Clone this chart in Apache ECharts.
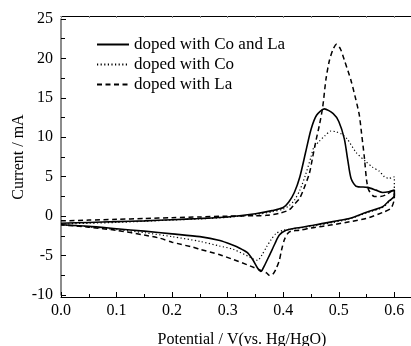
<!DOCTYPE html>
<html>
<head>
<meta charset="utf-8">
<script src="https://cdn.jsdelivr.net/npm/echarts@6/dist/echarts.min.js"></script>
<style>html,body{margin:0;padding:0;background:#fff}#c{width:411px;height:346px}</style>
</head>
<body>
<div id="c"></div>
<script>
// Series names
const seriesNames = ['doped with Co and La', 'doped with Co', 'doped with La'];
// Tick values
const xTicks = [0.0, 0.1, 0.2, 0.3, 0.4, 0.5, 0.6];
const yTicks = [-10, -5, 0, 5, 10, 15, 20, 25];

// Cyclic voltammograms: [potential V, current mA], in sweep order (anodic then cathodic)
const coLa = [
  [0.0,-0.9],[0.05,-0.8],[0.1,-0.7],[0.15,-0.6],[0.2,-0.45],[0.25,-0.3],[0.3,-0.1],[0.35,0.3],[0.38,0.7],[0.4,1.1],
  [0.41,1.8],[0.42,3.0],[0.43,5.0],[0.44,8.0],[0.45,11.0],[0.46,12.8],[0.474,13.6],[0.49,13.0],[0.5,12.0],[0.51,9.8],
  [0.516,7.2],[0.522,4.8],[0.531,3.8],[0.552,3.65],[0.567,3.3],[0.579,3.0],[0.59,3.1],[0.6,3.3],
  [0.6,2.6],[0.59,1.9],[0.579,1.2],[0.55,0.5],[0.519,-0.3],[0.5,-0.55],[0.459,-1.1],[0.42,-1.55],[0.405,-1.8],
  [0.393,-2.4],[0.385,-3.5],[0.375,-5.0],[0.366,-6.3],[0.36,-7.0],[0.354,-6.6],[0.345,-5.5],[0.335,-4.6],[0.32,-4.0],
  [0.31,-3.7],[0.286,-3.1],[0.25,-2.6],[0.2,-2.25],[0.15,-1.9],[0.1,-1.6],[0.05,-1.3],[0.0,-1.1]
];
const coOnly = [
  [0.0,-1.0],[0.05,-0.9],[0.1,-0.8],[0.15,-0.65],[0.2,-0.5],[0.25,-0.35],[0.3,-0.15],[0.35,0.2],[0.38,0.55],[0.4,0.9],
  [0.41,1.3],[0.42,2.0],[0.43,3.3],[0.44,5.2],[0.45,7.5],[0.455,8.7],[0.465,9.5],[0.475,10.2],[0.486,10.8],[0.495,10.7],
  [0.505,10.4],[0.515,9.8],[0.531,8.1],[0.549,6.9],[0.561,6.2],[0.573,5.7],[0.582,5.0],[0.59,4.8],[0.6,5.0],[0.6,3.3],
  [0.6,2.6],[0.59,1.8],[0.579,1.1],[0.55,0.4],[0.519,-0.35],[0.49,-0.8],[0.459,-1.2],[0.42,-1.6],[0.4,-1.8],[0.387,-2.2],
  [0.378,-3.0],[0.37,-3.9],[0.362,-4.9],[0.354,-5.6],[0.345,-5.4],[0.34,-5.2],[0.31,-4.2],[0.286,-3.8],[0.25,-3.2],
  [0.2,-2.6],[0.15,-2.1],[0.1,-1.7],[0.05,-1.35],[0.0,-1.1]
];
const laOnly = [
  [0.0,-0.6],[0.05,-0.5],[0.1,-0.4],[0.15,-0.3],[0.2,-0.2],[0.25,-0.1],[0.3,0.0],[0.35,0.05],[0.37,0.1],[0.393,0.35],
  [0.411,0.8],[0.42,1.5],[0.429,2.2],[0.435,3.1],[0.447,5.4],[0.453,7.5],[0.459,9.6],[0.465,11.5],[0.471,13.8],[0.477,17.4],
  [0.483,19.7],[0.49,21.2],[0.496,21.8],[0.503,21.2],[0.51,19.8],[0.522,17.2],[0.531,14.7],[0.537,12.8],[0.541,10.5],
  [0.546,7.5],[0.55,4.6],[0.554,3.3],[0.564,2.5],[0.575,2.5],[0.585,2.7],[0.597,3.2],[0.6,3.0],
  [0.6,2.3],[0.594,1.0],[0.58,0.5],[0.549,-0.3],[0.52,-0.7],[0.489,-1.1],[0.45,-1.5],[0.429,-1.8],[0.414,-1.9],[0.408,-2.2],
  [0.402,-3.0],[0.397,-4.3],[0.393,-5.6],[0.387,-6.7],[0.381,-7.4],[0.375,-7.5],[0.37,-7.2],[0.36,-6.9],[0.34,-6.3],
  [0.31,-5.5],[0.286,-4.9],[0.25,-4.2],[0.238,-3.95],[0.2,-3.3],[0.178,-2.8],[0.15,-2.4],[0.1,-1.8],[0.05,-1.4],[0.0,-1.1]
];

const font = 'Liberation Serif';
const chart = echarts.init(document.getElementById('c'), null, {renderer: 'canvas'});
const xFmt = v => xTicks.some(t => Math.abs(t - v) < 1e-6) ? v.toFixed(1) : '';
const yFmt = v => yTicks.includes(Math.round(v)) && Math.abs(Math.round(v) - v) < 1e-6 ? String(Math.round(v)) : '';
const lineCommon = {type: 'line', showSymbol: false, symbol: 'none', smooth: 0.25, animation: false, z: 3};

chart.setOption({
  animation: false,
  grid: {left: 61, right: 0, top: 19, bottom: 51, containLabel: false, outerBoundsMode: 'none'},
  legend: {
    orient: 'vertical', left: 91, top: 31, itemWidth: 32, itemHeight: 14, itemGap: 3,
    itemStyle: {opacity: 0},
    textStyle: {fontFamily: font, fontSize: 17, color: '#000'},
    data: seriesNames
  },
  xAxis: [{
    type: 'value', min: 0, max: 0.63, interval: 0.1, position: 'bottom', offset: 2,
    name: 'Potential / V(vs. Hg/HgO)', nameLocation: 'middle', nameGap: 35,
    nameTextStyle: {fontFamily: font, fontSize: 16, color: '#000', padding: [0, 0, 0, 12]},
    axisLine: {show: true, onZero: false, lineStyle: {color: '#000', width: 1}},
    axisTick: {show: true, inside: true, length: 5, lineStyle: {color: '#000'}},
    minorTick: {show: true, splitNumber: 2, length: 3, lineStyle: {color: '#000'}},
    axisLabel: {fontFamily: font, fontSize: 16, color: '#000', margin: 6, formatter: xFmt, showMaxLabel: false},
    splitLine: {show: false}
  }, {
    type: 'value', min: 0, max: 0.63, interval: 0.1, position: 'top', offset: 3,
    axisLine: {show: true, onZero: false, lineStyle: {color: '#000', width: 1}},
    axisTick: {show: true, inside: true, length: 2, lineStyle: {color: '#888'}},
    minorTick: {show: true, splitNumber: 2, length: 2, lineStyle: {color: '#888'}},
    axisLabel: {show: false}, splitLine: {show: false}
  }],
  yAxis: {
    type: 'value', min: -10, max: 25, interval: 5,
    name: 'Current / mA', nameLocation: 'middle', nameGap: 34, nameMoveOverlap: false,
    nameTextStyle: {fontFamily: font, fontSize: 16, color: '#000'},
    axisLine: {show: true, onZero: false, lineStyle: {color: '#666', width: 1.5}},
    axisTick: {show: true, inside: true, length: 5, lineStyle: {color: '#000'}},
    minorTick: {show: true, splitNumber: 2, length: 4, lineStyle: {color: '#000'}},
    axisLabel: {fontFamily: font, fontSize: 16, color: '#000', margin: 8, formatter: yFmt},
    splitLine: {show: false}
  },
  series: [
    Object.assign({}, lineCommon, {name: seriesNames[0], data: coLa, lineStyle: {color: '#000', width: 1.6, type: 'solid'}, itemStyle: {color: '#000'}}),
    Object.assign({}, lineCommon, {name: seriesNames[1], data: coOnly, lineStyle: {color: '#000', width: 1.2, type: [1.2, 2.4]}, itemStyle: {color: '#000'}}),
    Object.assign({}, lineCommon, {name: seriesNames[2], data: laOnly, lineStyle: {color: '#000', width: 1.5, type: [5, 3.5]}, itemStyle: {color: '#000'}})
  ]
});
</script>
</body>
</html>
